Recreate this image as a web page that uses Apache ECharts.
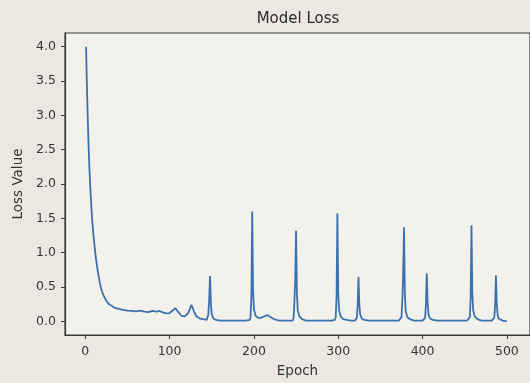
<!DOCTYPE html>
<html>
<head>
<meta charset="utf-8">
<script src="https://cdn.jsdelivr.net/npm/echarts@6/dist/echarts.min.js"></script>
<style>
html,body{margin:0;padding:0;background:#ebe8e2;}
#chart{width:530px;height:383px;}
</style>
</head>
<body>
<div id="chart"></div>
<script>
// Data
const epochs = [
  1,2,3,4,5,6,7,8,9,10,11,12,13,14,15,16,17,18,19,20,22,24,26,28,30,33,36,40,45,50,
  55,60,65,70,75,80,85,88,92,96,100,104,107,110,114,118,122,126,129,132,136,140,144,
  146,147,148,149,150,152,155,160,170,180,190,195,196,197,198,199,200,202,205,208,212,216,220,224,230,
  240,246,247,248,249,250,251,252,254,257,262,272,282,292,296,297,298,299,300,301,303,306,310,315,320,
  321,322,323,324,325,326,328,331,336,346,356,366,372,374,375,376,377,378,379,380,382,385,390,396,
  400,402,403,404,405,406,407,409,412,418,428,438,448,453,455,456,457,458,459,460,462,465,470,476,482,
  484,485,486,487,488,489,490,492,495,500
];
const loss = [
  4.00,3.40,2.95,2.55,2.22,1.95,1.72,1.52,1.36,1.22,1.10,0.99,0.89,0.80,0.72,0.65,0.58,0.52,0.47,0.43,0.37,0.32,0.28,0.25,0.23,0.21,0.19,0.18,0.165,0.155,
  0.15,0.145,0.155,0.14,0.135,0.15,0.14,0.15,0.13,0.115,0.12,0.16,0.19,0.14,0.08,0.07,0.12,0.24,0.14,0.07,0.04,0.03,0.02,
  0.10,0.33,0.66,0.25,0.10,0.04,0.02,0.01,0.01,0.01,0.01,0.02,0.06,0.35,1.60,0.45,0.18,0.08,0.05,0.05,0.07,0.09,0.06,0.03,0.01,
  0.01,0.01,0.04,0.28,0.60,1.32,0.40,0.16,0.07,0.03,0.01,0.01,0.01,0.01,0.02,0.06,0.35,1.57,0.42,0.16,0.07,0.03,0.02,0.01,0.01,
  0.02,0.05,0.22,0.65,0.25,0.10,0.04,0.02,0.01,0.01,0.01,0.01,0.01,0.02,0.06,0.30,0.70,1.37,0.40,0.15,0.06,0.03,0.01,0.01,
  0.01,0.02,0.05,0.25,0.70,0.26,0.10,0.04,0.02,0.01,0.01,0.01,0.01,0.01,0.02,0.06,0.32,1.40,0.42,0.16,0.07,0.03,0.01,0.01,0.01,
  0.02,0.05,0.22,0.67,0.25,0.10,0.04,0.02,0.01,0.00
];
const xTicks = [0, 100, 200, 300, 400, 500];
const yTicks = [0.0, 0.5, 1.0, 1.5, 2.0, 2.5, 3.0, 3.5, 4.0];

const chart = echarts.init(document.getElementById('chart'), null, {renderer: 'canvas'});
const textColor = '#353535';
const font = 'DejaVu Sans';
chart.setOption({
  backgroundColor: '#ebe8e2',
  animation: false,
  title: {
    text: 'Model Loss',
    left: 298,
    top: 12,
    padding: 0,
    textAlign: 'center',
    textStyle: {fontFamily: font, fontSize: 15, fontWeight: 'normal', color: '#2a2a2a'}
  },
  grid: {
    left: 65, top: 33, width: 468, height: 305,
    show: true, backgroundColor: '#f3f1ec', borderColor: '#3a3a3a', borderWidth: 1.2
  },
  xAxis: {
    type: 'value', min: -24, max: 527.4,
    name: 'Epoch', nameLocation: 'middle', nameGap: 29,
    nameTextStyle: {fontFamily: font, fontSize: 13.5, color: textColor, align: 'center'},
    axisLine: {show: true, onZero: false, lineStyle: {color: '#3a3a3a', width: 1.2}},
    axisTick: {show: true, length: 4, customValues: xTicks, lineStyle: {color: '#3a3a3a'}},
    axisLabel: {customValues: xTicks, margin: 10, fontFamily: font, fontSize: 12.5, color: textColor},
    splitLine: {show: false}
  },
  yAxis: {
    type: 'value', min: -0.2, max: 4.2,
    name: 'Loss Value', nameLocation: 'middle', nameGap: 38,
    nameTextStyle: {fontFamily: font, fontSize: 13.5, color: textColor},
    axisLine: {show: true, onZero: false, lineStyle: {color: '#3a3a3a', width: 1.2}},
    axisTick: {show: true, length: 4, customValues: yTicks, lineStyle: {color: '#3a3a3a'}},
    axisLabel: {customValues: yTicks, margin: 9, fontFamily: font, fontSize: 12.5, color: textColor,
      formatter: v => v.toFixed(1)},
    splitLine: {show: false}
  },
  series: [{
    type: 'line',
    data: epochs.map((e, i) => [e, loss[i]]),
    showSymbol: false,
    lineStyle: {color: '#3b72ad', width: 1.8},
    itemStyle: {color: '#3b72ad'}
  }]
});
</script>
</body>
</html>
